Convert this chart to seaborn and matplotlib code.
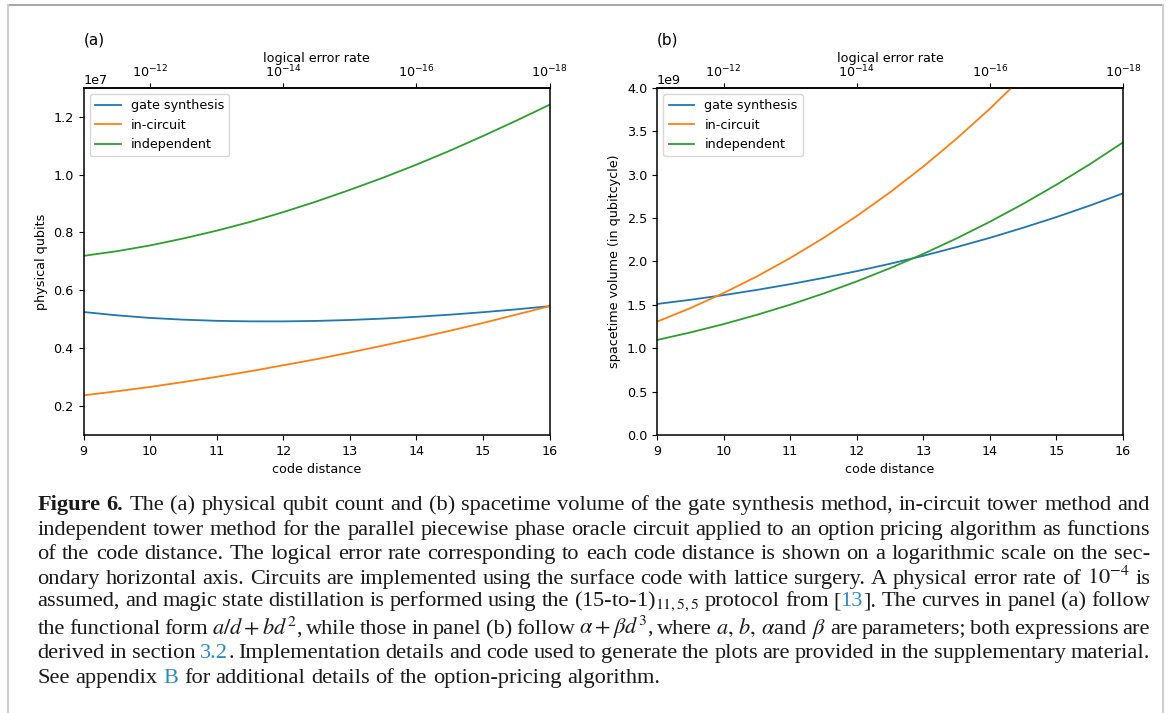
import re
import numpy as np
import pandas as pd
import seaborn as sns
import matplotlib.pyplot as plt
from matplotlib.lines import Line2D
from matplotlib.ticker import FuncFormatter

distance = [9, 9.5, 10, 10.5, 11, 11.5, 12, 12.5, 13, 13.5, 14, 14.5, 15, 15.5, 16]
methods = ['gate synthesis', 'in-circuit', 'independent']
colors = ['#1f77b4', '#ff7f0e', '#2ca02c']

# (a) physical qubits (x 1e7)
qubits_gate = [0.525, 0.5135, 0.5045, 0.4985, 0.4945, 0.4927, 0.4926, 0.4942, 0.4974, 0.5022, 0.5083, 0.5157, 0.5243, 0.5341, 0.545]
qubits_incircuit = [0.237, 0.251, 0.266, 0.283, 0.301, 0.320, 0.341, 0.362, 0.385, 0.409, 0.434, 0.460, 0.487, 0.516, 0.545]
qubits_independent = [0.719, 0.735, 0.755, 0.779, 0.806, 0.836, 0.870, 0.907, 0.947, 0.989, 1.034, 1.082, 1.133, 1.186, 1.241]

# (b) spacetime volume (x 1e9)
volume_gate = [1.509, 1.557, 1.611, 1.671, 1.737, 1.809, 1.887, 1.972, 2.064, 2.164, 2.271, 2.387, 2.510, 2.642, 2.783]
volume_incircuit = [1.305, 1.461, 1.635, 1.826, 2.038, 2.269, 2.521, 2.795, 3.092, 3.413, 3.758, 4.129, 4.526, 4.951, 5.404]
volume_independent = [1.094, 1.181, 1.277, 1.384, 1.501, 1.629, 1.769, 1.921, 2.086, 2.264, 2.456, 2.662, 2.883, 3.118, 3.370]

error_ticks = [1e-12, 1e-14, 1e-16, 1e-18]

# caption: *bold*, @link@, $math$
caption = [
    "*Figure* *6.* The (a) physical qubit count and (b) spacetime volume of the gate synthesis method, in-circuit tower method and",
    "independent tower method for the parallel piecewise phase oracle circuit applied to an option pricing algorithm as functions",
    "of the code distance. The logical error rate corresponding to each code distance is shown on a logarithmic scale on the sec-",
    "ondary horizontal axis. Circuits are implemented using the surface code with lattice surgery. A physical error rate of $10^{-4}$ is",
    "assumed, and magic state distillation is performed using the (15-to-1)${}_{11,5,5}$ protocol from [@13@]. The curves in panel (a) follow",
    r"the functional form $a/d+bd^2$, while those in panel (b) follow $\alpha+\beta d^3$, where $a,\,b,\,\alpha$and $\beta$ are parameters; both expressions are",
    "derived in section @3.2@. Implementation details and code used to generate the plots are provided in the supplementary material.",
    "See appendix @B@ for additional details of the option-pricing algorithm.",
]
caption_baselines = [510, 535, 559, 584, 606, 634, 658, 683]

rows = []
for m, q, v in zip(methods,
                   [qubits_gate, qubits_incircuit, qubits_independent],
                   [volume_gate, volume_incircuit, volume_independent]):
    for d, qq, vv in zip(distance, q, v):
        rows.append({'d': d, 'method': m, 'qubits': qq * 1e7, 'volume': vv * 1e9})
df = pd.DataFrame(rows)

plt.rcParams['font.size'] = 9.2
plt.rcParams['axes.linewidth'] = 1.1
W, H = 1171, 713
fig = plt.figure(figsize=(W / 100, H / 100), dpi=100)


def to_error(d):
    return 10.0 ** (-(np.asarray(d, dtype=float) + 2))


def to_distance(p):
    return -np.log10(np.clip(np.asarray(p, dtype=float), 1e-300, None)) - 2


def panel(left, col, ylabel, ylim, tag):
    ax = fig.add_axes([left / W, 1 - 435 / H, 466 / W, 347.3 / H])
    sns.lineplot(data=df, x='d', y=col, hue='method', hue_order=methods,
                 palette=colors, linewidth=1.3, errorbar=None, ax=ax)
    ax.set_xlim(9, 16)
    ax.set_ylim(*ylim)
    ax.set_xlabel('code distance')
    ax.set_ylabel(ylabel)
    sns.move_legend(ax, 'upper left', title=None, fontsize=9.2)
    top = ax.secondary_xaxis('top', functions=(to_error, to_distance))
    top.set_xticks(error_ticks)
    top.xaxis.set_major_formatter(FuncFormatter(
        lambda p, pos: r'$\mathdefault{10^{%d}}$' % round(np.log10(p))))
    top.tick_params(axis='x', pad=1.5)
    top.set_xlabel('logical error rate', labelpad=1.5)
    fig.text(left / W, 1 - 40 / H, tag, fontsize=11, va='center', ha='left')
    return ax


panel(83.5, 'qubits', 'physical qubits', (1e6, 1.3e7), '(a)')
panel(657, 'volume', 'spacetime volume (in qubitcycle)', (0, 4e9), '(b)')

# caption, justified between x_left and x_right
x_left, x_right = 37.5, 1150
renderer = fig.canvas.get_renderer()
lines = []
for line in caption:
    tokens = re.findall(r'(?:\$[^$]*\$|[^\s$])+', line)
    words = []
    for tok in tokens:
        pieces = []
        for part in re.split(r'(\*[^*]+\*|@[^@]+@)', tok):
            if not part:
                continue
            weight, color = 'normal', '#1a1a1a'
            if part.startswith('*'):
                part, weight = part[1:-1], 'bold'
            elif part.startswith('@'):
                part, color = part[1:-1], '#2b8cc4'
            t = fig.text(0, 0, part, fontsize=15, family='Liberation Serif',
                         fontweight=weight, color=color, math_fontfamily='stix',
                         va='baseline', ha='left')
            pieces.append(t)
        words.append(pieces)
    lines.append(words)


def measure(fs):
    for words in lines:
        for pieces in words:
            for t in pieces:
                t.set_fontsize(fs)
    probe = fig.text(0, 0, 'x x', fontsize=fs, family='Liberation Serif')
    probe2 = fig.text(0, 0, 'xx', fontsize=fs, family='Liberation Serif')
    space = probe.get_window_extent(renderer).width - probe2.get_window_extent(renderer).width
    probe.remove()
    probe2.remove()
    widths = [[sum(t.get_window_extent(renderer).width for t in pieces) for pieces in words]
              for words in lines]
    return space, widths


# grow the type until the fullest line only fits with slightly tightened spaces
space, widths = measure(15)
tight = max(sum(w) + 0.7 * space * (len(w) - 1) for w in widths)
fs = min(17.5, 15 * (x_right - x_left) / tight)
space, widths = measure(fs)

for i, (words, ws, yb) in enumerate(zip(lines, widths, caption_baselines)):
    if i < len(lines) - 1:
        gap = (x_right - x_left - sum(ws)) / (len(ws) - 1)
    else:
        gap = space
    x = x_left
    for pieces in words:
        for t in pieces:
            t.set_position((x / W, 1 - yb / H))
            x += t.get_window_extent(renderer).width
        x += gap

# page frame
frame = dict(transform=fig.transFigure, linewidth=1.5)
fig.add_artist(Line2D([8 / W, 1163 / W], [1 - 4.5 / H] * 2, color='#a8a8a8', **frame))
fig.add_artist(Line2D([8 / W] * 2, [0, 1 - 4.5 / H], color='#cfcfcf', **frame))
fig.add_artist(Line2D([1163 / W] * 2, [0, 1 - 4.5 / H], color='#cfcfcf', **frame))

fig.savefig('out.png', dpi=100)
